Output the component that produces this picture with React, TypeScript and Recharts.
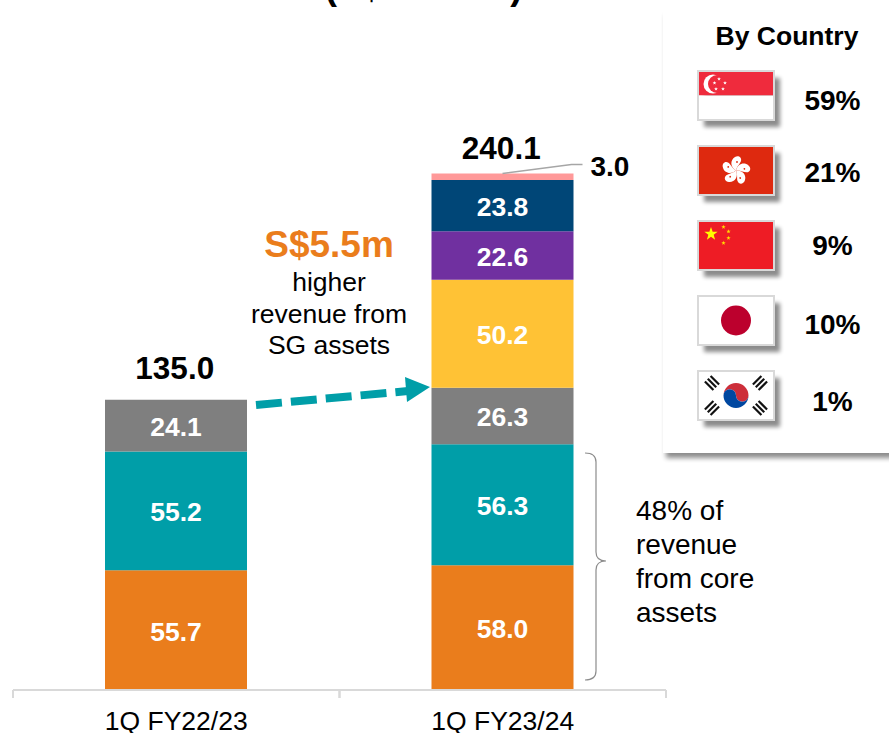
import React from "react";
import { ComposedChart, Bar, Line, XAxis, YAxis, LabelList } from "recharts";

const categories = ["1Q FY22/23", "1Q FY23/24"];
const orangeValues = [55.7, 58.0];
const tealValues = [55.2, 56.3];
const greyValues = [24.1, 26.3];
const yellowValues = [null, 50.2];
const purpleValues = [null, 22.6];
const navyValues = [null, 23.8];
const pinkValues = [null, 3.0];
const totals = [135.0, 240.1];

const countries = ["SG", "HK", "CN", "JP", "KR"];
const countryShares = ["59%", "21%", "9%", "10%", "1%"];

const data = categories.map((name, i) => ({
  name,
  orange: orangeValues[i],
  teal: tealValues[i],
  grey: greyValues[i],
  yellow: yellowValues[i],
  purple: purpleValues[i],
  navy: navyValues[i],
  pink: pinkValues[i],
  total: totals[i],
}));

const FONT = "'Liberation Sans', Arial, sans-serif";

const series = [
  { key: "orange", fill: "#EA7D1C" },
  { key: "teal", fill: "#009EA8" },
  { key: "grey", fill: "#7F7F7F" },
  { key: "yellow", fill: "#FFC235" },
  { key: "purple", fill: "#7030A0" },
  { key: "navy", fill: "#004677" },
];

const XTick = (props: any) => {
  const { x, y, payload } = props;
  const half = 163.25;
  return (
    <g>
      <line x1={x - half} x2={x - half} y1={y - 8} y2={y} stroke="#D9D9D9" strokeWidth={2} />
      <line x1={x + half} x2={x + half} y1={y - 8} y2={y} stroke="#D9D9D9" strokeWidth={2} />
      <text x={x} y={y + 32} textAnchor="middle" fontSize={26.5} fontFamily={FONT} fill="#000">
        {payload.value}
      </text>
    </g>
  );
};

const TotalLabel = (props: any) => {
  const { x, y, value, index } = props;
  if (value == null) return null;
  const gap = index === 0 ? 21 : 15;
  return (
    <text x={x - 1.5} y={y - gap} textAnchor="middle" fontSize={31.5} fontWeight={700} fontFamily={FONT} fill="#000">
      {Number(value).toFixed(1)}
    </text>
  );
};

const SmallLabel = (props: any) => {
  const { x, y, width, value } = props;
  if (value == null) return null;
  const cx = x + width / 2;
  return (
    <g>
      <polyline points={`${cx},${y} ${cx + 69},${y - 9} ${cx + 80},${y - 9}`} fill="none" stroke="#A6A6A6" strokeWidth={1.5} />
      <text x={cx + 88} y={y + 2} fontSize={28} fontWeight={700} fontFamily={FONT} fill="#000">
        {Number(value).toFixed(1)}
      </text>
    </g>
  );
};

const star = (cx: number, cy: number, r: number) => {
  const pts: string[] = [];
  for (let i = 0; i < 10; i++) {
    const rad = i % 2 === 0 ? r : r * 0.4;
    const a = -Math.PI / 2 + (i * Math.PI) / 5;
    pts.push(`${(cx + rad * Math.cos(a)).toFixed(2)},${(cy + rad * Math.sin(a)).toFixed(2)}`);
  }
  return pts.join(" ");
};

const Flag = ({ code, y }: { code: string; y: number }) => {
  const w = 74;
  const h = 47;
  let art: React.ReactNode = null;
  if (code === "SG") {
    art = (
      <>
        <rect width={w} height={h / 2} fill="#EF2B3D" />
        <rect y={h / 2} width={w} height={h / 2} fill="#fff" />
        <circle cx={14} cy={12} r={9.5} fill="#fff" />
        <circle cx={18} cy={12} r={9} fill="#EF2B3D" />
        {[[20, 7], [26, 11], [24, 17], [17, 17], [15.5, 11]].map(([a, b]) => (
          <polygon key={a + "-" + b} points={star(a, b, 2)} fill="#fff" />
        ))}
      </>
    );
  } else if (code === "HK") {
    art = (
      <>
        <rect width={w} height={h} fill="#DE290F" />
        {[0, 72, 144, 216, 288].map((a) => (
          <g key={a} transform={`rotate(${a} 37 23.5)`}>
            <path d="M37 23.5 C31 20 31 13 36 10 C39 8 43 10 42 14 C41 17 38 19 37 23.5 Z" fill="#fff" />
            <circle cx={38} cy={15} r={0.9} fill="#DE290F" />
          </g>
        ))}
      </>
    );
  } else if (code === "CN") {
    art = (
      <>
        <rect width={w} height={h} fill="#EE1C25" />
        <polygon points={star(12, 12, 7)} fill="#FFFF00" />
        {[[24.5, 5], [29.5, 9.5], [29.5, 16], [24.5, 21]].map(([a, b]) => (
          <polygon key={a + "-" + b} points={star(a, b, 2.3)} fill="#FFDE00" />
        ))}
      </>
    );
  } else if (code === "JP") {
    art = (
      <>
        <rect width={w} height={h} fill="#fff" />
        <circle cx={37} cy={23.5} r={15} fill="#BC002D" />
      </>
    );
  } else {
    art = (
      <>
        <rect width={w} height={h} fill="#fff" />
        <path d="M24.5 23.5 A12.5 12.5 0 0 1 49.5 23.5 A6.25 6.25 0 0 1 37 23.5 A6.25 6.25 0 0 0 24.5 23.5 Z" fill="#CD2E3A" />
        <path d="M24.5 23.5 A12.5 12.5 0 0 0 49.5 23.5 A6.25 6.25 0 0 1 37 23.5 A6.25 6.25 0 0 0 24.5 23.5 Z" fill="#0047A0" />
        {[[13, 11, 45], [61, 11, -45], [13, 36, -45], [61, 36, 45]].map(([a, b, r]) => (
          <g key={a + "-" + b} transform={`rotate(${r} ${a} ${b})`}>
            {[-4, 0, 4].map((d) => (
              <rect key={d} x={a - 6} y={b + d - 1.1} width={12} height={2.2} fill="#111" />
            ))}
          </g>
        ))}
      </>
    );
  }
  return (
    <g transform={`translate(699 ${y})`}>
      <rect x={5} y={6} width={w + 2} height={h + 2} fill="#000" opacity={0.45} filter="url(#flagBlur)" />
      {art}
      <rect x={-1} y={-1} width={w + 2} height={h + 2} fill="none" stroke="#D9D9D9" strokeWidth={2} />
    </g>
  );
};

const flagTops = [72, 147, 222, 297, 372];
const shareYs = [110, 182, 255, 334, 411];

const App = () => (
  <div style={{ position: "absolute", left: 0, top: 0, width: 889, height: 733, overflow: "hidden", background: "#fff" }}>
    <ComposedChart width={889} height={733} data={data} margin={{ top: 45, right: 223, bottom: 0, left: 13 }} barSize={142}>
      <XAxis dataKey="name" axisLine={{ stroke: "#D9D9D9", strokeWidth: 2 }} tickLine={false} tick={<XTick />} interval={0} height={43} />
      <YAxis hide domain={[0, 300]} width={0} />
      {series.map((s) => (
        <Bar key={s.key} dataKey={s.key} stackId="a" fill={s.fill} isAnimationActive={false}>
          <LabelList dataKey={s.key} position="center" dy={1} fill="#fff" fontSize={26.5} fontWeight={700} fontFamily={FONT} formatter={(v: any) => (v == null ? "" : Number(v).toFixed(1))} />
        </Bar>
      ))}
      <Bar dataKey="pink" stackId="a" fill="#FF9999" isAnimationActive={false}>
        <LabelList dataKey="pink" content={<SmallLabel />} />
      </Bar>
      <Line dataKey="total" stroke="none" dot={false} activeDot={false} legendType="none" isAnimationActive={false}>
        <LabelList dataKey="total" content={<TotalLabel />} />
      </Line>
    </ComposedChart>

    <svg width={889} height={733} style={{ position: "absolute", left: 0, top: 0 }} fontFamily={FONT}>
      <defs>
        <filter id="flagBlur" x="-20%" y="-20%" width="140%" height="140%">
          <feGaussianBlur stdDeviation="2" />
        </filter>
        <filter id="panelBlur" x="-5%" y="-5%" width="110%" height="110%">
          <feGaussianBlur stdDeviation="2.5" />
        </filter>
      </defs>

      <text x={423.5} y={-1.5} textAnchor="middle" fontSize={36.7} fontWeight={700} fill="#000">(S$ million)</text>

      <line x1={256} y1={405} x2={408} y2={391} stroke="#009EA8" strokeWidth={8} strokeDasharray="26 9" />
      <polygon points="430,387 405,377 407,402" fill="#009EA8" />

      <text x={329} y={257} textAnchor="middle" fontSize={37} fontWeight={700} fill="#EA7D1C">S$5.5m</text>
      <text x={329} y={291} textAnchor="middle" fontSize={26.5} fill="#000">higher</text>
      <text x={329} y={323} textAnchor="middle" fontSize={26.5} fill="#000">revenue from</text>
      <text x={329} y={354} textAnchor="middle" fontSize={26.5} fill="#000">SG assets</text>

      <path d="M585 453 Q596 453 596 462 L596 552 Q596 561 606 561 Q596 561 596 570 L596 671 Q596 680 585 680" fill="none" stroke="#8C8C8C" strokeWidth={1.2} />
      {["48% of", "revenue", "from core", "assets"].map((t, i) => (
        <text key={t} x={636} y={520 + i * 34} fontSize={28} fill="#000">{t}</text>
      ))}

      <rect x={666} y={15} width={240} height={443} fill="#000" opacity={0.45} filter="url(#panelBlur)" />
      <rect x={663} y={10} width={240} height={443} fill="#fff" />
      <text x={787} y={45} textAnchor="middle" fontSize={26.5} fontWeight={700} fill="#000">By Country</text>
      {countries.map((c, i) => (
        <React.Fragment key={c}>
          <Flag code={c} y={flagTops[i]} />
          <text x={832.5} y={shareYs[i]} textAnchor="middle" fontSize={28} fontWeight={700} fill="#000">{countryShares[i]}</text>
        </React.Fragment>
      ))}
    </svg>
  </div>
);

export default App;
